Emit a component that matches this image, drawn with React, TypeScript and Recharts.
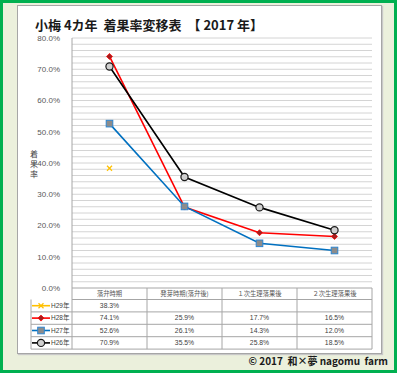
import { LineChart, Line, XAxis, YAxis, ReferenceLine } from "recharts";

const categories = ["落弁時期", "発芽時期(落弁後)", "１次生理落果後", "２次生理落果後"];
const seriesNames = ["H29年", "H28年", "H27年", "H26年"];
const h29 = [38.3, null, null, null];
const h28 = [74.1, 25.9, 17.7, 16.5];
const h27 = [52.6, 26.1, 14.3, 12.0];
const h26 = [70.9, 35.5, 25.8, 18.5];
const yTicks = [0, 10, 20, 30, 40, 50, 60, 70, 80];
const minorGrid = [
  2, 4, 6, 8, 12, 14, 16, 18, 22, 24, 26, 28, 32, 34, 36, 38, 42, 44, 46, 48,
  52, 54, 56, 58, 62, 64, 66, 68, 72, 74, 76, 78,
];

const data = categories.map((cat, i) => ({
  cat,
  h29: h29[i],
  h28: h28[i],
  h27: h27[i],
  h26: h26[i],
}));

const W = 397;
const H = 373;
const PLOT_LEFT = 72;
const PLOT_RIGHT = 372;
const PLOT_TOP = 38;
const PLOT_BOTTOM = 288;
const COL_W = (PLOT_RIGHT - PLOT_LEFT) / categories.length;
const HEAD_BOTTOM = 299.5;
const ROW_H = 12.4;
const LEGEND_LEFT = 31;

const FONT = '"Liberation Sans", "Noto Sans CJK JP", sans-serif';
const JP = '"Noto Sans CJK JP", "Liberation Sans", sans-serif';
const GRID = "#d4d4d4";
const TABLE_LINE = "#a6a6a6";

const seriesStyle = [
  { key: "h29", color: "#ffc000", vals: h29 },
  { key: "h28", color: "#ff0000", vals: h28 },
  { key: "h27", color: "#0070c0", vals: h27 },
  { key: "h26", color: "#000000", vals: h26 },
];

function marker(kind: string, cx: number, cy: number, key: string) {
  if (kind === "h29") {
    return (
      <g key={key} stroke="#ffc000" strokeWidth={1.3}>
        <line x1={cx - 2.5} y1={cy - 2.5} x2={cx + 2.5} y2={cy + 2.5} />
        <line x1={cx - 2.5} y1={cy + 2.5} x2={cx + 2.5} y2={cy - 2.5} />
      </g>
    );
  }
  if (kind === "h28") {
    return (
      <path
        key={key}
        d={`M${cx},${cy - 3}L${cx + 3},${cy}L${cx},${cy + 3}L${cx - 3},${cy}Z`}
        fill="#a02020"
        stroke="#ff0000"
        strokeWidth={0.8}
      />
    );
  }
  if (kind === "h27") {
    return (
      <rect
        key={key}
        x={cx - 3.3}
        y={cy - 3.3}
        width={6.6}
        height={6.6}
        fill="#8c8c8c"
        stroke="#2e86d0"
        strokeWidth={1}
      />
    );
  }
  return <circle key={key} cx={cx} cy={cy} r={3.6} fill="#d0d0d0" stroke="#1a1a1a" strokeWidth={1.2} />;
}

function makeDot(kind: string) {
  return (props: any) => {
    const { cx, cy, index, value } = props;
    const key = `${kind}-${index}`;
    if (cx == null || cy == null || value == null) return <g key={key} />;
    return marker(kind, cx, cy, key);
  };
}

function DataTable() {
  const rowTop = (r: number) => HEAD_BOTTOM + r * ROW_H;
  const tableBottom = rowTop(seriesStyle.length);
  return (
    <svg
      width={W}
      height={H}
      style={{ position: "absolute", left: 0, top: 0, pointerEvents: "none" }}
    >
      {[0, 1, 2, 3, 4].map((r) => (
        <line
          key={`hl-${r}`}
          x1={r === 0 ? PLOT_LEFT : LEGEND_LEFT}
          x2={PLOT_RIGHT}
          y1={rowTop(r)}
          y2={rowTop(r)}
          stroke={TABLE_LINE}
          strokeWidth={1}
        />
      ))}
      <line x1={PLOT_LEFT} x2={PLOT_RIGHT} y1={PLOT_BOTTOM} y2={PLOT_BOTTOM} stroke={TABLE_LINE} />
      {[0, 1, 2, 3, 4].map((c) => (
        <line
          key={`vl-${c}`}
          x1={PLOT_LEFT + c * COL_W}
          x2={PLOT_LEFT + c * COL_W}
          y1={c === 0 ? PLOT_TOP : PLOT_BOTTOM}
          y2={tableBottom}
          stroke={TABLE_LINE}
          strokeWidth={1}
        />
      ))}
      <line x1={LEGEND_LEFT} x2={LEGEND_LEFT} y1={HEAD_BOTTOM} y2={tableBottom} stroke={TABLE_LINE} />
      {categories.map((c, i) => (
        <text
          key={`hd-${i}`}
          x={PLOT_LEFT + (i + 0.5) * COL_W}
          y={(PLOT_BOTTOM + HEAD_BOTTOM) / 2 + 2.2}
          textAnchor="middle"
          fontSize={6.3}
          fontFamily={JP}
          fill="#595959"
        >
          {c}
        </text>
      ))}
      {seriesStyle.map((s, r) => {
        const cy = rowTop(r) + ROW_H / 2;
        return (
          <g key={`row-${s.key}`}>
            <line x1={32} x2={50} y1={cy} y2={cy} stroke={s.color} strokeWidth={1.6} />
            {marker(s.key, 41, cy, `lm-${s.key}`)}
            <text x={51} y={cy + 2.3} fontSize={6.5} fontFamily={FONT} fill="#404040">
              {seriesNames[r]}
            </text>
            {s.vals.map((v, i) =>
              v == null ? null : (
                <text
                  key={`v-${s.key}-${i}`}
                  x={PLOT_LEFT + (i + 0.5) * COL_W}
                  y={cy + 2.3}
                  textAnchor="middle"
                  fontSize={6.8}
                  fontFamily={FONT}
                  fill="#404040"
                >
                  {v.toFixed(1)}%
                </text>
              )
            )}
          </g>
        );
      })}
    </svg>
  );
}

export default function App() {
  return (
    <div
      style={{
        position: "absolute",
        left: 0,
        top: 0,
        width: W,
        height: H,
        boxSizing: "border-box",
        background: "#ebf0dc",
        border: "3px solid #00b050",
        fontFamily: FONT,
        overflow: "hidden",
      }}
    >
      <div
        style={{
          position: "absolute",
          left: 14,
          top: 2,
          width: 363,
          height: 347,
          background: "#ffffff",
          border: "1px solid #a6a6a6",
          boxShadow: "1px 1px 1px #c8c8c8",
        }}
      />
      <div
        style={{
          position: "absolute",
          left: 32,
          top: 12,
          fontFamily: JP,
          fontWeight: 700,
          fontSize: 13,
          color: "#1a1a1a",
          whiteSpace: "pre",
        }}
      >
        {"小梅 4カ年  着果率変移表  【 2017 年】"}
      </div>
      <div
        style={{
          position: "absolute",
          left: 25,
          top: 146,
          width: 12,
          fontFamily: JP,
          fontSize: 8,
          lineHeight: "10px",
          color: "#404040",
          textAlign: "center",
        }}
      >
        <div>着</div>
        <div>果</div>
        <div>率</div>
      </div>
      <div style={{ position: "absolute", left: -3, top: -3 }}>
        <LineChart
          width={W}
          height={H}
          data={data}
          margin={{ top: PLOT_TOP, right: W - PLOT_RIGHT, bottom: H - PLOT_BOTTOM, left: 0 }}
        >
          {minorGrid.concat(yTicks.slice(1)).map((v) => (
            <ReferenceLine key={`g-${v}`} y={v} stroke={GRID} strokeWidth={1} ifOverflow="visible" />
          ))}
          <XAxis dataKey="cat" hide scale="band" />
          <YAxis
            width={PLOT_LEFT}
            domain={[0, 80]}
            ticks={yTicks}
            tickFormatter={(v: number) => `${v.toFixed(1)}%`}
            axisLine={false}
            tickLine={false}
            tick={{ fontSize: 8, fill: "#595959", fontFamily: FONT }}
            tickMargin={6}
          />
          {seriesStyle.map((s) => (
            <Line
              key={s.key}
              dataKey={s.key}
              stroke={s.color}
              strokeWidth={1.6}
              dot={makeDot(s.key)}
              activeDot={false}
              connectNulls={false}
              isAnimationActive={false}
            />
          ))}
        </LineChart>
        <DataTable />
      </div>
      <div
        style={{
          position: "absolute",
          right: 6,
          top: 350,
          fontFamily: JP,
          fontWeight: 700,
          fontSize: 10,
          color: "#1a1a1a",
          whiteSpace: "pre",
        }}
      >
        {"© 2017  和×夢 nagomu  farm"}
      </div>
    </div>
  );
}
